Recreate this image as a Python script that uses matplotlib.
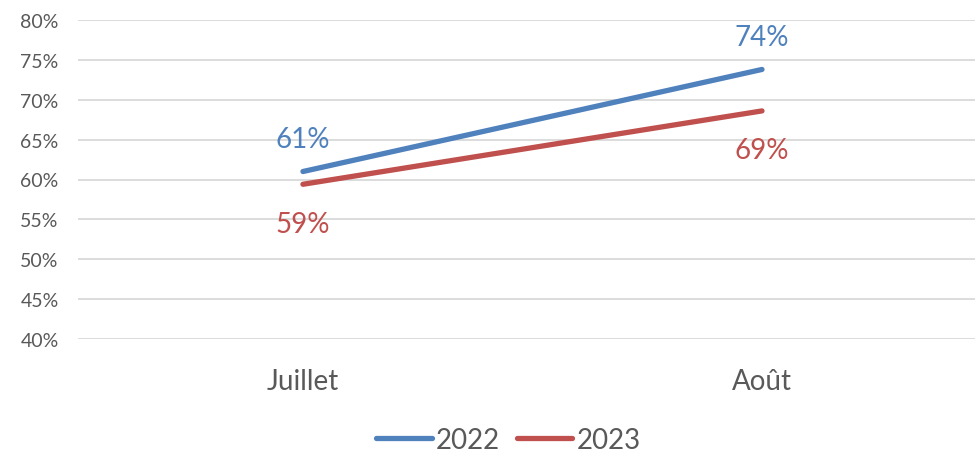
import matplotlib.pyplot as plt
from matplotlib.ticker import FuncFormatter

# data
months = ["Juillet", "Août"]
val_2022 = [61.0, 73.8]
val_2023 = [59.4, 68.6]
series_names = ["2022", "2023"]
colors = ["#4F81BD", "#C0504D"]

plt.rcParams['font.family'] = ['Lato', 'DejaVu Sans']

fig = plt.figure(figsize=(9.78, 4.56), dpi=100)
ax = fig.add_axes([78/978, 1 - 340/456, 897/978, 319/456])

x = range(len(months))
for vals, name, col, off in [(val_2022, series_names[0], colors[0], 23.5),
                             (val_2023, series_names[1], colors[1], -28.5)]:
    ax.plot(x, vals, color=col, lw=3.8, solid_capstyle='round', label=name)
    for xi, v in zip(x, vals):
        ax.annotate("%d%%" % round(v), (xi, v), xytext=(0, off),
                    textcoords='offset points', ha='center', va='center',
                    fontsize=20, color=col)

ax.set_ylim(40, 80)
ax.set_xlim(-0.49, 1.464)
ax.set_yticks(range(40, 81, 5))
ax.yaxis.set_major_formatter(FuncFormatter(lambda v, p: "%d%%" % v))
ax.set_xticks(list(x))
ax.set_xticklabels(months)
ax.grid(axis='y', color='#D9D9D9', lw=1.3)
ax.set_axisbelow(True)
for s in ax.spines.values():
    s.set_visible(False)
ax.tick_params(axis='y', length=0, labelsize=14, labelcolor='#595959', pad=14)
ax.tick_params(axis='x', length=0, labelsize=20, labelcolor='#595959', pad=21)

fig.legend(loc='center', bbox_to_anchor=(0.52, 1 - 441/456), ncol=2, frameon=False,
           fontsize=20, labelcolor='#595959', handlelength=2.0, columnspacing=0.6,
           handletextpad=0.15)

fig.savefig("out.png", dpi=100)
